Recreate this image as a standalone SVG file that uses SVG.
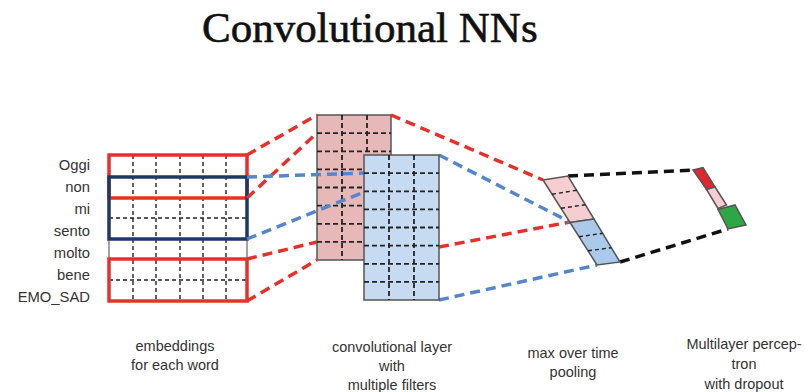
<svg xmlns="http://www.w3.org/2000/svg" width="805" height="392" viewBox="0 0 805 392">
  <style>
    .title { font-family: "Liberation Serif", "DejaVu Serif", serif; font-size: 43px; fill: #111; stroke: #111; stroke-width: 0.6; }
    .lbl { font-family: "Liberation Sans", Arial, sans-serif; font-size: 14.5px; fill: #333; }
    .word { font-family: "Liberation Sans", Arial, sans-serif; font-size: 14.8px; fill: #333; text-anchor: end; }
    .mid { text-anchor: middle; }
    .grid { stroke: #222; stroke-width: 1.4; stroke-dasharray: 4 3; fill: none; }
    .cgrid { stroke: #222; stroke-width: 1.8; stroke-dasharray: 5 3; fill: none; }
    .frame { fill: none; stroke: #666; stroke-width: 1.2; }
    .redbox { fill: none; stroke: #e8302a; stroke-width: 3.5; }
    .navybox { fill: none; stroke: #1f3864; stroke-width: 3.5; }
    .red { stroke: #e8302a; stroke-width: 3.5; stroke-dasharray: 10 6; fill: none; }
    .blue { stroke: #5585cc; stroke-width: 3.5; stroke-dasharray: 10 6; fill: none; }
    .black { stroke: #111; stroke-width: 3.5; stroke-dasharray: 10 6; fill: none; }
    .cell { stroke: #555; stroke-width: 1.5; }
  </style>

  <text class="title" x="202" y="42">Convolutional NNs</text>

  <!-- word embedding matrix -->
  <g id="embeddings">
    <text class="word" x="90" y="170">Oggi</text>
    <text class="word" x="90" y="192">non</text>
    <text class="word" x="90" y="214">mi</text>
    <text class="word" x="90" y="236">sento</text>
    <text class="word" x="90" y="258">molto</text>
    <text class="word" x="90" y="280">bene</text>
    <text class="word" x="90" y="302">EMO_SAD</text>
    <rect class="frame" x="109" y="155" width="138" height="146"/>
    <path class="grid" d="M133 155V301M156 155V301M180 155V301M203 155V301M226 155V301M109 218H247M109 280H247"/>
    <rect class="redbox" x="109" y="155" width="138" height="43"/>
    <rect class="redbox" x="109" y="259" width="138" height="42"/>
    <rect class="navybox" x="109" y="177" width="138" height="62"/>
  </g>

  <!-- first filter map -->
  <g id="filter-red">
    <rect x="317" y="115" width="74" height="145" fill="#e6b9b8" stroke="#555" stroke-width="1.5"/>
    <path class="cgrid" d="M342 115V260M367 115V260M317 133.1H391M317 151.3H391M317 169.4H391M317 187.5H391M317 205.6H391M317 223.8H391M317 241.9H391"/>
  </g>

  <g id="connectors">
    <!-- embeddings to filters -->
    <line class="red" x1="247" y1="155" x2="317" y2="115"/>
    <line class="red" x1="247" y1="198" x2="317" y2="133"/>
    <line class="red" x1="247" y1="259" x2="317" y2="242"/>
    <line class="red" x1="247" y1="301" x2="317" y2="260"/>
    <line class="blue" x1="247" y1="177" x2="364" y2="173"/>
    <line class="blue" x1="247" y1="239" x2="364" y2="192"/>
    <!-- filters to pooling -->
    <line class="red" x1="391" y1="115" x2="543" y2="180"/>
    <line class="red" x1="439" y1="247" x2="570" y2="222"/>
    <line class="blue" x1="439" y1="155" x2="570" y2="222"/>
    <line class="blue" x1="439" y1="300" x2="597" y2="265"/>
    <!-- pooling to perceptron -->
    <line class="black" x1="568" y1="176" x2="693" y2="170"/>
    <line class="black" x1="620" y1="262" x2="728" y2="229"/>
  </g>

  <!-- second filter map -->
  <g id="filter-blue">
    <rect x="364" y="155" width="75" height="145" fill="#c6daf1" stroke="#555" stroke-width="1.5"/>
    <path class="cgrid" d="M389 155V300M414 155V300M364 173.1H439M364 191.3H439M364 209.4H439M364 227.5H439M364 245.6H439M364 263.8H439M364 281.9H439"/>
  </g>

  <!-- max over time pooling -->
  <g id="pooling">
    <polygon class="cell" points="543,180 568,176 594,219 570,222.5" fill="#f6cdd0"/>
    <polygon class="cell" points="570,222.5 594,219 620,262 597,265" fill="#abc9ea"/>
    <path class="grid" stroke-width="1.5" d="M552 194.2L576.7 190.3M561 208.3L585.3 204.7M579 236.7L602.7 233.3M588 250.8L611.3 247.7"/>
  </g>

  <!-- perceptron with dropout -->
  <g id="mlp">
    <polygon class="cell" points="693,170 703,167.5 715,187 706.5,189.5" fill="#e2262a"/>
    <polygon class="cell" points="706.5,189.5 715,187 726.5,205 718,208.5" fill="#f6cdd0"/>
    <polygon class="cell" points="718,209.5 735,205 746,225 728,229" fill="#2ea645"/>
  </g>

  <g id="captions">
    <text class="lbl mid" x="175" y="351">embeddings</text>
    <text class="lbl mid" x="175" y="370">for each word</text>
    <text class="lbl mid" x="392" y="352">convolutional layer</text>
    <text class="lbl mid" x="392" y="371">with</text>
    <text class="lbl mid" x="392" y="390">multiple filters</text>
    <text class="lbl mid" x="573" y="358">max over time</text>
    <text class="lbl mid" x="573" y="377">pooling</text>
    <text class="lbl mid" x="744" y="349">Multilayer percep-</text>
    <text class="lbl mid" x="744" y="369">tron</text>
    <text class="lbl mid" x="744" y="389">with dropout</text>
  </g>
</svg>
